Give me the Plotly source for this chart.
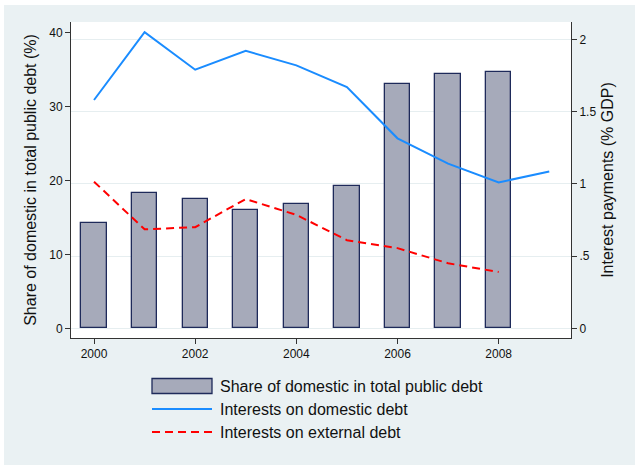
import plotly.graph_objects as go

years = [2000, 2001, 2002, 2003, 2004, 2005, 2006, 2007, 2008, 2009]
share_domestic = [14.2, 18.3, 17.5, 16.0, 16.8, 19.3, 33.0, 34.4, 34.7]
int_domestic = [1.58, 2.05, 1.79, 1.92, 1.82, 1.67, 1.315, 1.14, 1.01, 1.085]
int_external = [1.015, 0.685, 0.70, 0.895, 0.785, 0.61, 0.555, 0.45, 0.39]

labels = ["Share of domestic in total public debt",
          "Interests on domestic debt",
          "Interests on external debt"]
left_title = "Share of domestic in total public debt (%)"
right_title = "Interest payments (% GDP)"
x_ticks = [2000, 2002, 2004, 2006, 2008]
y_ticks = [0, 10, 20, 30, 40]
y2_ticks = [0, 0.5, 1, 1.5, 2]
y2_ticktext = ["0", ".5", "1", "1.5", "2"]

BG = "#EAF1F3"
BAR_FILL = "#A6AABA"
BAR_EDGE = "#1E2A5A"
BLUE = "#1A8CFF"
RED = "#FF0000"
TXT = "#111111"
FONT = "Liberation Sans, Arial, sans-serif"

fig = go.Figure()
fig.add_trace(go.Bar(x=years[:len(share_domestic)], y=share_domestic, width=0.5,
                     marker=dict(color=BAR_FILL, line=dict(color=BAR_EDGE, width=1.3)),
                     name=labels[0], yaxis="y", showlegend=False))
fig.add_trace(go.Scatter(x=years[:len(int_domestic)], y=int_domestic, mode="lines",
                         line=dict(color=BLUE, width=2), name=labels[1],
                         yaxis="y2", showlegend=False))
fig.add_trace(go.Scatter(x=years[:len(int_external)], y=int_external, mode="lines",
                         line=dict(color=RED, width=2, dash="8px,5px"), name=labels[2],
                         yaxis="y2", showlegend=False))

L, R, T, B = 71, 64, 22, 127
W, H = 635, 465
pw, ph = W - L - R, H - T - B

def px(xp):
    return (xp - L) / pw

def py(yp):
    return 1 - (yp - T) / ph

shapes = [
    dict(type="rect", xref="paper", yref="paper", x0=px(0), x1=px(W), y0=py(0), y1=py(5),
         fillcolor="white", line=dict(width=0), layer="above"),
    dict(type="rect", xref="paper", yref="paper", x0=px(0), x1=px(4), y0=py(H), y1=py(0),
         fillcolor="white", line=dict(width=0), layer="above"),
]
annotations = []
leg_x0, leg_x1 = px(152), px(212)
text_x = px(218)
rows = [386, 409, 432]
shapes.append(dict(type="rect", xref="paper", yref="paper", x0=leg_x0, x1=leg_x1,
                   y0=py(rows[0] + 7.5), y1=py(rows[0] - 7.5),
                   fillcolor=BAR_FILL, line=dict(color=BAR_EDGE, width=1.3)))
shapes.append(dict(type="line", xref="paper", yref="paper", x0=leg_x0, x1=leg_x1,
                   y0=py(rows[1]), y1=py(rows[1]), line=dict(color=BLUE, width=2)))
shapes.append(dict(type="line", xref="paper", yref="paper", x0=leg_x0, x1=leg_x1,
                   y0=py(rows[2]), y1=py(rows[2]), line=dict(color=RED, width=2, dash="8px,5px")))
for lab, r in zip(labels, rows):
    annotations.append(dict(xref="paper", yref="paper", x=text_x, y=py(r), text=lab,
                            showarrow=False, xanchor="left", yanchor="middle",
                            font=dict(family=FONT, size=16, color=TXT)))

axis_common = dict(ticks="outside", ticklen=5, tickcolor="#333333", showline=True,
                   linecolor="#333333", linewidth=1, zeroline=False, automargin=False,
                   tickfont=dict(size=12, color=TXT))

fig.update_layout(
    width=W, height=H,
    margin=dict(l=L, r=R, t=T, b=B, pad=0),
    paper_bgcolor=BG, plot_bgcolor="white",
    font=dict(family=FONT, size=12, color=TXT),
    bargap=0,
    showlegend=False,
    xaxis=dict(range=[1999.545, 2009.43], tickvals=x_ticks, showgrid=False, **axis_common),
    yaxis=dict(range=[-1.31, 41.45], tickvals=y_ticks, showgrid=False,
               title=dict(text=left_title, font=dict(size=16, color=TXT), standoff=8),
               **axis_common),
    yaxis2=dict(range=[-0.067, 2.12], tickvals=y2_ticks, ticktext=y2_ticktext,
                overlaying="y", side="right",
                showgrid=True, gridcolor="#E6EEF0", gridwidth=1,
                title=dict(text=right_title, font=dict(size=16, color=TXT), standoff=6),
                **axis_common),
    shapes=shapes, annotations=annotations,
)

fig.write_html("out.html", config={"displayModeBar": False},
               post_script="document.body.style.margin='0';document.body.style.overflow='hidden';")
